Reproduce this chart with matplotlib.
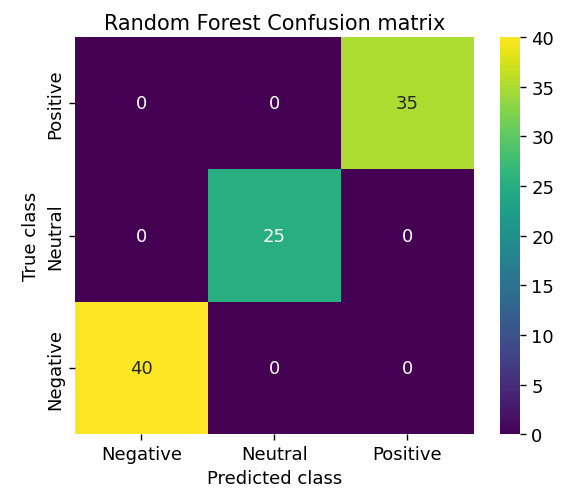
import matplotlib as mpl
mpl.use('Agg')
import matplotlib.pyplot as plt
import numpy as np
import seaborn as sns

# rows top -> bottom, columns left -> right
row_labels = ["Positive", "Neutral", "Negative"]
col_labels = ["Negative", "Neutral", "Positive"]
row_positive = [0, 0, 35]
row_neutral = [0, 25, 0]
row_negative = [40, 0, 0]

cm = np.array([row_positive, row_neutral, row_negative])

fs = 13
fig = plt.figure(figsize=(5.66, 4.89), dpi=100)
ax = fig.add_axes([0.1325, 0.110, 0.7045, 0.812])
cax = fig.add_axes([0.883, 0.110, 0.036, 0.812])

sns.heatmap(cm, annot=True, fmt="d", cmap="viridis", ax=ax, cbar_ax=cax,
            xticklabels=col_labels, yticklabels=row_labels,
            annot_kws={"size": fs})
ax.set_yticklabels(row_labels, rotation=90, va='center', fontsize=fs)
ax.set_xticklabels(col_labels, rotation=0, fontsize=fs)
ax.set_title("Random Forest Confusion matrix", fontsize=15)
ax.set_xlabel("Predicted class", fontsize=fs)
ax.set_ylabel("True class", fontsize=fs)
ax.tick_params(length=4.5, width=1.0)
cax.tick_params(labelsize=fs, length=4.5, width=1.0)

fig.savefig("out.png", dpi=100)
